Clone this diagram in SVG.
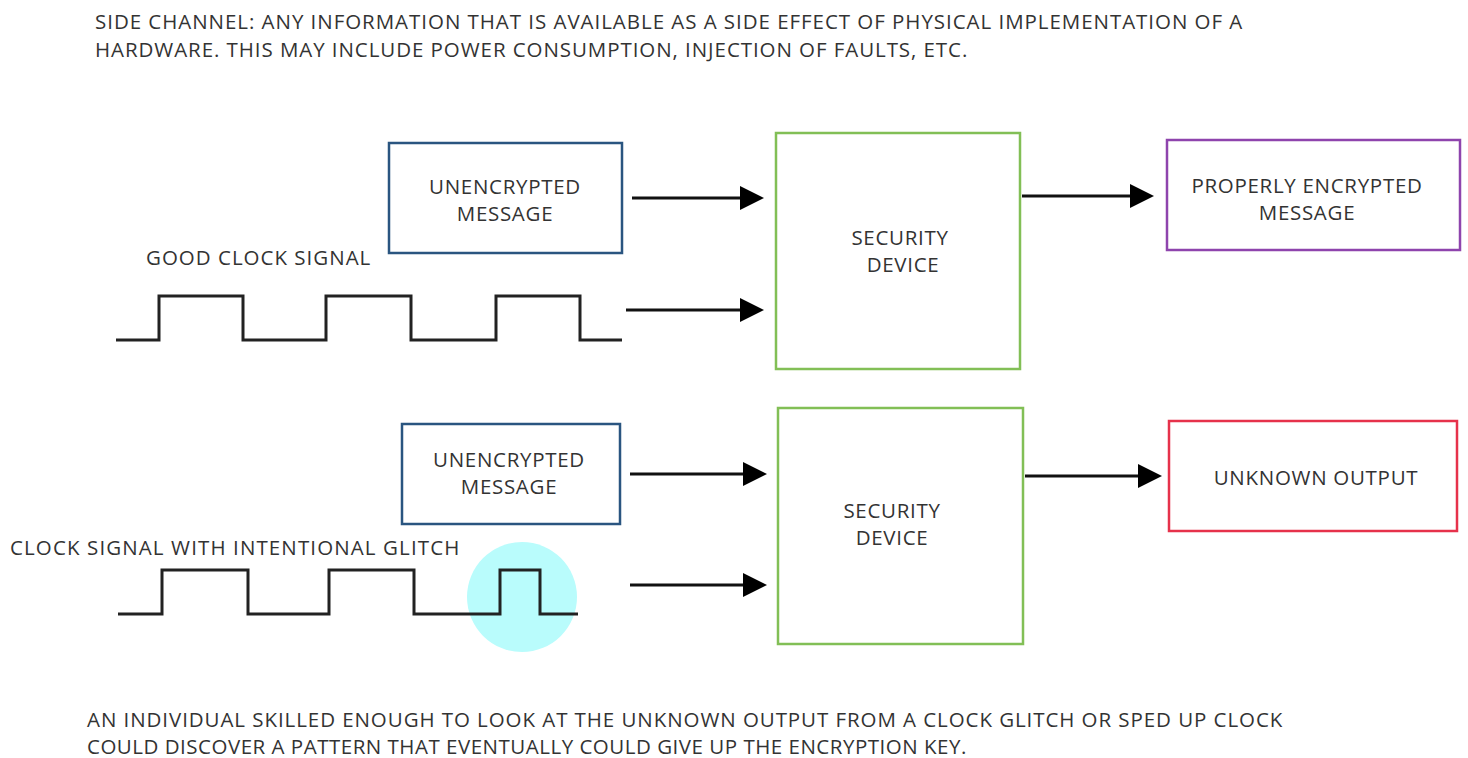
<svg xmlns="http://www.w3.org/2000/svg" width="1468" height="758" viewBox="0 0 1468 758">
  <style>
    text { font-family: "Open Sans", "Noto Sans", "Liberation Sans", sans-serif; font-size: 20.5px; letter-spacing: 0.7px; fill: #333; }
    .c { text-anchor: middle; }
    .box { fill: #fff; stroke-width: 2.5; }
    .msg { stroke: #2a5580; }
    .dev { stroke: #82bf56; }
    .ok { stroke: #8e44ad; }
    .bad { stroke: #e6324b; }
    .wave { fill: none; stroke: #222; stroke-width: 3; stroke-linejoin: miter; }
    .arrow { fill: none; stroke: #111; stroke-width: 3; marker-end: url(#head); }
  </style>
  <defs>
    <marker id="head" markerWidth="8" markerHeight="8" refX="0" refY="4" orient="auto" markerUnits="strokeWidth">
      <path d="M0,0 L8,4 L0,8 Z" fill="#000"/>
    </marker>
  </defs>
  <rect width="1468" height="758" fill="#fff"/>

  <!-- description -->
  <text x="95" y="29" textLength="1148" lengthAdjust="spacing">SIDE CHANNEL: ANY INFORMATION THAT IS AVAILABLE AS A SIDE EFFECT OF PHYSICAL IMPLEMENTATION OF A</text>
  <text x="95" y="57" textLength="873" lengthAdjust="spacing">HARDWARE. THIS MAY INCLUDE POWER CONSUMPTION, INJECTION OF FAULTS, ETC.</text>

  <!-- upper scenario: normal clock -->
  <g id="msg1">
    <rect class="box msg" x="389" y="143" width="233" height="110"/>
    <text class="c" x="505" y="194">UNENCRYPTED</text>
    <text class="c" x="505" y="221">MESSAGE</text>
  </g>
  <g id="device1">
    <rect class="box dev" x="776" y="133" width="244" height="236"/>
    <text class="c" x="900" y="245">SECURITY</text>
    <text class="c" x="903" y="272">DEVICE</text>
  </g>
  <g id="proper-output">
    <rect class="box ok" x="1167" y="140" width="293" height="110"/>
    <text class="c" x="1307" y="193">PROPERLY ENCRYPTED</text>
    <text class="c" x="1307" y="220">MESSAGE</text>
  </g>
  <g id="good-clock">
    <text x="146" y="265" textLength="225" lengthAdjust="spacing">GOOD CLOCK SIGNAL</text>
    <path class="wave" d="M116,340 H159 V296 H243 V340 H326 V296 H411 V340 H496 V296 H580 V340 H622"/>
  </g>

  <!-- lower scenario: glitched clock -->
  <g id="msg2">
    <rect class="box msg" x="402" y="424" width="218" height="100"/>
    <text class="c" x="509" y="467">UNENCRYPTED</text>
    <text class="c" x="509" y="494">MESSAGE</text>
  </g>
  <g id="device2">
    <rect class="box dev" x="778" y="408" width="245" height="236"/>
    <text class="c" x="892" y="518">SECURITY</text>
    <text class="c" x="892" y="545">DEVICE</text>
  </g>
  <g id="unknown-output">
    <rect class="box bad" x="1169" y="421" width="288" height="110"/>
    <text class="c" x="1316" y="485">UNKNOWN OUTPUT</text>
  </g>
  <g id="glitch-clock">
    <text x="10" y="555" textLength="450" lengthAdjust="spacing">CLOCK SIGNAL WITH INTENTIONAL GLITCH</text>
    <circle cx="522" cy="597" r="55" fill="#b9fcfc"/>
    <path class="wave" d="M118,614 H162 V570 H248 V614 H329 V570 H414 V614 H500 V570 H540 V614 H578"/>
  </g>

  <!-- connectors -->
  <g id="connectors">
    <path class="arrow" d="M632,198 H740"/>
    <path class="arrow" d="M626,310 H740"/>
    <path class="arrow" d="M1022,196 H1130"/>
    <path class="arrow" d="M630,474 H743"/>
    <path class="arrow" d="M630,585 H743"/>
    <path class="arrow" d="M1025,476 H1138"/>
  </g>

  <!-- conclusion -->
  <text x="87" y="727" textLength="1196" lengthAdjust="spacing">AN INDIVIDUAL SKILLED ENOUGH TO LOOK AT THE UNKNOWN OUTPUT FROM A CLOCK GLITCH OR SPED UP CLOCK</text>
  <text x="87" y="754" textLength="880" lengthAdjust="spacing">COULD DISCOVER A PATTERN THAT EVENTUALLY COULD GIVE UP THE ENCRYPTION KEY.</text>
</svg>
